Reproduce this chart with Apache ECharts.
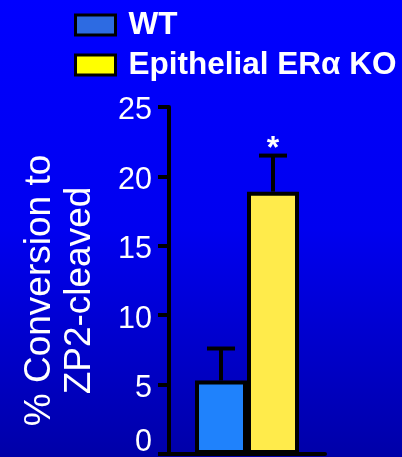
<!DOCTYPE html>
<html>
<head>
<meta charset="utf-8">
<style>
  html, body { margin: 0; padding: 0; }
  #chart { width: 402px; height: 457px; }
</style>
<script src="https://cdn.jsdelivr.net/npm/echarts@6/dist/echarts.min.js"></script>
</head>
<body>
<div id="chart"></div>
<script>
// Groups, means and upper error limits
const groups = ['WT', 'Epithelial ERα KO'];
const means = [5.3, 18.9];
const upperErr = [7.6, 21.5];
const significance = ['', '*'];
const yTicks = [0, 5, 10, 15, 20, 25];

const barColors = ['#1f82fc', '#ffeb4b'];
const legendColors = ['#2d6be2', '#ffff00'];
const BAR_W = 52;
const FONT = 'Liberation Sans, Arial, Helvetica, sans-serif';

const chart = echarts.init(document.getElementById('chart'));

const barSeries = groups.map((g, i) => ({
  name: g,
  type: 'bar',
  data: [means[i]],
  barWidth: BAR_W,
  barGap: '0%',
  itemStyle: { color: barColors[i], borderColor: '#000', borderWidth: 4 },
  z: 3
}));

const errorSeries = {
  type: 'custom',
  z: 4,
  data: means.map((m, i) => [0, m, upperErr[i], i]),
  renderItem(params, api) {
    const gi = api.value(3);
    const offset = (gi - (groups.length - 1) / 2) * BAR_W;
    const top = api.coord([0, api.value(1)]);
    const hi = api.coord([0, api.value(2)]);
    const x = top[0] + offset;
    const cap = 14;
    const children = [
      { type: 'line', shape: { x1: x, y1: top[1], x2: x, y2: hi[1] },
        style: { stroke: '#000', lineWidth: 4 } },
      { type: 'line', shape: { x1: x - cap, y1: hi[1], x2: x + cap, y2: hi[1] },
        style: { stroke: '#000', lineWidth: 4 } }
    ];
    if (significance[gi]) {
      children.push({ type: 'text', x: x, y: hi[1] - 6,
        style: { text: significance[gi], fill: '#fff', font: 'bold 32px ' + FONT,
                 align: 'center', verticalAlign: 'middle' } });
    }
    return { type: 'group', children };
  }
};

chart.setOption({
  animation: false,
  backgroundColor: {
    type: 'linear', x: 0, y: 0, x2: 0, y2: 1,
    colorStops: [
      { offset: 0, color: '#0000ff' },
      { offset: 0.5, color: '#0000f0' },
      { offset: 1, color: '#0000a8' }
    ]
  },
  legend: {
    orient: 'vertical',
    left: 74,
    top: 9,
    padding: 0,
    itemWidth: 40,
    itemHeight: 20,
    itemGap: 8,
    icon: 'rect',
    data: groups.map((g, i) => ({
      name: g,
      itemStyle: { color: legendColors[i], borderColor: '#000', borderWidth: 3 }
    })),
    textStyle: { color: '#fff', fontSize: 31.5, fontWeight: 'bold', fontFamily: FONT,
                 padding: [0, 0, 0, 8] }
  },
  grid: { left: 169, right: 77, top: 107, bottom: 3, outerBoundsMode: 'none' },
  xAxis: {
    type: 'category',
    data: [''],
    axisLine: { lineStyle: { color: '#000', width: 4 } },
    axisTick: { show: false },
    axisLabel: { show: false }
  },
  yAxis: {
    type: 'value',
    min: yTicks[0],
    max: yTicks[yTicks.length - 1],
    interval: yTicks[1] - yTicks[0],
    splitLine: { show: false },
    axisLine: { show: true, lineStyle: { color: '#000', width: 4 } },
    axisTick: { show: true, length: 11, lineStyle: { color: '#000', width: 4 } },
    axisLabel: {
      color: '#fff', fontSize: 30.5, fontFamily: FONT, margin: 17,
      padding: [8, 0, 0, 0],
      formatter: v => (v === yTicks[0] ? '{z|' + v + '}' : String(v)),
      rich: { z: { color: '#fff', fontSize: 30.5, fontFamily: FONT, padding: [0, 0, 30, 0] } }
    },
    name: '% Conversion to\nZP2-cleaved',
    nameLocation: 'middle',
    nameGap: 69,
    nameTextStyle: { color: '#fff', fontSize: 37, lineHeight: 40, fontFamily: FONT,
                     padding: [0, 20, 0, 0] }
  },
  series: [...barSeries, errorSeries]
});
</script>
</body>
</html>
